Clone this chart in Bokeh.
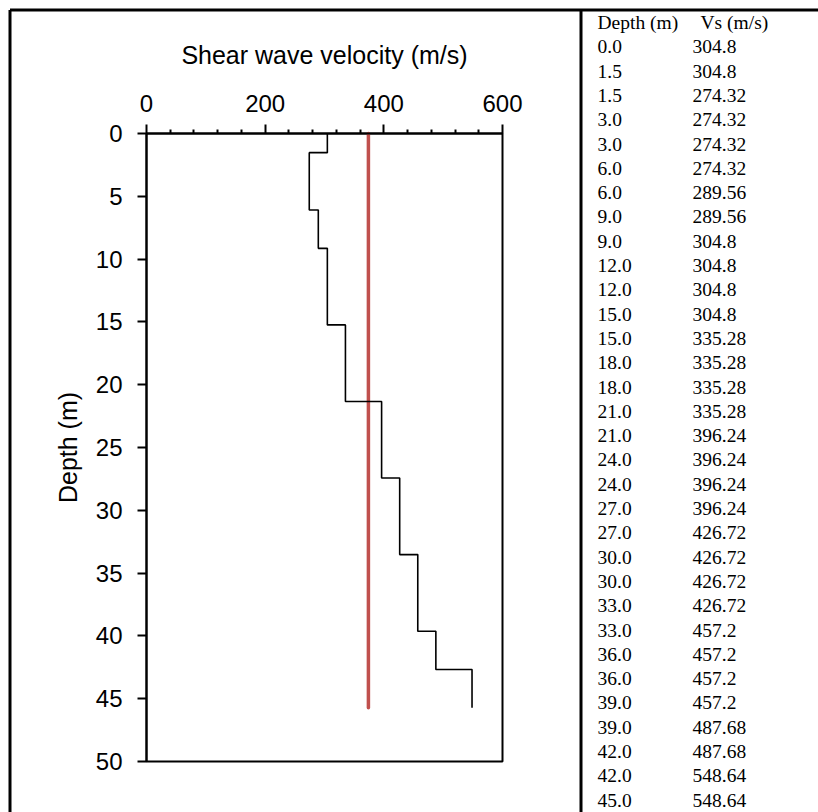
from bokeh.plotting import figure
from bokeh.models import Range1d, FixedTicker, LinearAxis
from bokeh.embed import file_html
from bokeh.resources import INLINE
from bokeh.core.properties import value

# ---------------- data ----------------
# layer boundaries (m) and shear-wave velocity of each layer (m/s) as drawn
layer_depths = [0.0, 1.524, 6.096, 9.144, 15.24, 21.336, 27.432, 33.528, 39.624, 42.672, 45.72]
layer_vs = [304.8, 274.32, 289.56, 304.8, 335.28, 396.24, 426.72, 457.2, 487.68, 548.64]
mean_vs = 374.0

x_ticks = [0, 200, 400, 600]
x_minor_ticks = [40, 80, 120, 160, 240, 280, 320, 360, 440, 480, 520, 560]
y_ticks = [0, 5, 10, 15, 20, 25, 30, 35, 40, 45, 50]

table_header = ["Depth (m)", "Vs (m/s)"]
table_depth = ["0.0", "1.5", "1.5", "3.0", "3.0", "6.0", "6.0", "9.0", "9.0", "12.0",
               "12.0", "15.0", "15.0", "18.0", "18.0", "21.0", "21.0", "24.0", "24.0",
               "27.0", "27.0", "30.0", "30.0", "33.0", "33.0", "36.0", "36.0", "39.0",
               "39.0", "42.0", "42.0", "45.0"]
table_vs = ["304.8", "304.8", "274.32", "274.32", "274.32", "274.32", "289.56", "289.56",
            "304.8", "304.8", "304.8", "304.8", "335.28", "335.28", "335.28", "335.28",
            "396.24", "396.24", "396.24", "396.24", "426.72", "426.72", "426.72", "426.72",
            "457.2", "457.2", "457.2", "457.2", "487.68", "487.68", "548.64", "548.64"]

# ---------------- layout constants (page pixels) ----------------
SANS = "Liberation Sans"
SERIF = "Liberation Serif"
W, H = 818, 812
X_MIN, X_MAX = 0, 600
Y_MIN, Y_MAX = 0, 50
FRAME_L, FRAME_R, FRAME_T, FRAME_B = 146, 502, 133, 761
ROW_H = 24.3          # table row pitch
ROW0_Y = 22.0         # centre of table header row
COL_DEPTH_X = 597
COL_VS_X = 692
HEAD_VS_X = 700
BORDER = 9.5
SEP_X = 580.5

px_per_x = (FRAME_R - FRAME_L) / (X_MAX - X_MIN)
px_per_y = (FRAME_B - FRAME_T) / (Y_MAX - Y_MIN)

# step profile path built from the layer arrays
step_x, step_y = [], []
for i, v in enumerate(layer_vs):
    step_x += [v, v]
    step_y += [layer_depths[i], layer_depths[i + 1]]

# ---------------- figure (frame covers the whole canvas) ----------------
p = figure(width=W, height=H, title=None,
           x_range=Range1d(X_MIN - FRAME_L / px_per_x, X_MIN + (W - FRAME_L) / px_per_x),
           y_range=Range1d(Y_MIN + (H - FRAME_T) / px_per_y, Y_MIN - FRAME_T / px_per_y),
           x_axis_location=None, y_axis_location=None,
           toolbar_location=None, output_backend="svg", min_border=0,
           background_fill_color="white", border_fill_color="white",
           outline_line_color=None)
p.grid.visible = False

# helper ranges: "px"/"py" = page pixels, "rows" = table rows
p.extra_x_ranges = {"px": Range1d(0, W)}
p.extra_y_ranges = {"py": Range1d(H, 0),
                    "rows": Range1d((H - ROW0_Y) / ROW_H, -ROW0_Y / ROW_H)}

xa = LinearAxis(fixed_location=Y_MIN, bounds=(X_MIN, X_MAX),
                ticker=FixedTicker(ticks=x_ticks, minor_ticks=x_minor_ticks),
                axis_label="Shear wave velocity (m/s)")
ya = LinearAxis(fixed_location=X_MIN, bounds=(Y_MIN, Y_MAX),
                ticker=FixedTicker(ticks=y_ticks, minor_ticks=[]),
                axis_label="Depth (m)")

for ax in (xa, ya):
    ax.axis_line_color = "black"
    ax.axis_line_width = 2
    ax.major_tick_line_color = "black"
    ax.major_tick_line_width = 2
    ax.major_tick_out = 9
    ax.major_tick_in = 0
    ax.minor_tick_line_color = "black"
    ax.minor_tick_line_width = 2
    ax.minor_tick_in = 0
    ax.major_label_text_font = SANS
    ax.major_label_text_font_size = "24px"
    ax.major_label_text_color = "black"
    ax.axis_label_text_font = SANS
    ax.axis_label_text_font_size = "25px"
    ax.axis_label_text_font_style = "normal"
    ax.axis_label_text_color = "black"

xa.minor_tick_out = 4
xa.major_label_standoff = 13
xa.axis_label_standoff = 23
ya.minor_tick_out = 0
ya.major_label_standoff = 15
ya.axis_label_standoff = 11

p.add_layout(xa, "above")
p.add_layout(ya, "left")

# plot-area box
p.quad(left=X_MIN, right=X_MAX, top=Y_MIN, bottom=Y_MAX,
       fill_color=None, line_color="black", line_width=2)

# series
p.line([mean_vs, mean_vs], [layer_depths[0], layer_depths[-1]],
       line_color="#C0504D", line_width=3.5, line_cap="round")
p.line(step_x, step_y, line_color="black", line_width=1.6)

# outer frame and table separator
p.segment(x0=[BORDER, BORDER, SEP_X], y0=[BORDER, BORDER, BORDER],
          x1=[W + 10, BORDER, SEP_X], y1=[BORDER, H + 10, H + 10],
          x_range_name="px", y_range_name="py",
          line_color="black", line_width=3)

# table
rows = list(range(1, len(table_depth) + 1))
common = dict(x_range_name="px", y_range_name="rows",
              text_font=value(SERIF), text_font_size="19.5px", text_color="black",
              text_baseline="middle", text_align="left")
p.text(x=[COL_DEPTH_X, HEAD_VS_X], y=[0, 0], text=table_header, **common)
p.text(x=[COL_DEPTH_X] * len(rows), y=rows, text=table_depth, **common)
p.text(x=[COL_VS_X] * len(rows), y=rows, text=table_vs, **common)

open("out.html", "w").write(file_html(p, INLINE))
